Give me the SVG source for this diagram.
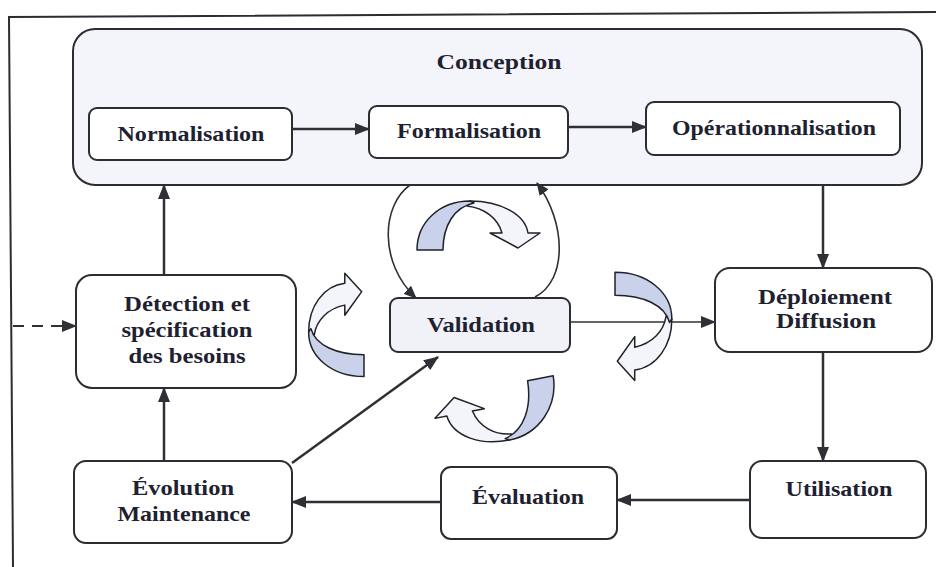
<svg xmlns="http://www.w3.org/2000/svg" xmlns:xlink="http://www.w3.org/1999/xlink" width="936" height="567" viewBox="0 0 936 567">
  <style>
    .box { fill: #ffffff; stroke: #2b2d33; stroke-width: 2; }
    .group { fill: #f3f5fa; stroke: #2b2d33; stroke-width: 2; }
    .soft { fill: #f0f2f8; stroke: #2b2d33; stroke-width: 2; }
    .lbl { font-family: "Liberation Serif", "DejaVu Serif", serif; font-weight: bold; font-size: 22px; fill: #1e2130; text-anchor: middle; }
    .link { fill: none; stroke: #2e3036; stroke-width: 2.5; }
    .thin { fill: none; stroke: #2e3036; stroke-width: 1.6; }
    .dash { fill: none; stroke: #2e3036; stroke-width: 2.2; stroke-dasharray: 11 8; }
    .shade { fill: #c9d2ea; stroke: #1f2229; stroke-width: 1.5; stroke-linejoin: round; }
    .light { fill: #f3f5fb; stroke: #1f2229; stroke-width: 1.5; stroke-linejoin: round; }
  </style>
  <defs>
    <marker id="head" markerUnits="userSpaceOnUse" markerWidth="15" markerHeight="12" refX="14" refY="6" orient="auto">
      <path d="M0,0 L15,6 L0,12 Z" fill="#2e3036"/>
    </marker>
    <marker id="headSm" markerUnits="userSpaceOnUse" markerWidth="13" markerHeight="11" refX="12" refY="5.5" orient="auto">
      <path d="M0,0 L13,5.5 L0,11 Z" fill="#2e3036"/>
    </marker>
    <!-- curved "turn" arrow: shaded back face + light front face ending in a head -->
    <g id="turn">
      <path class="light" vector-effect="non-scaling-stroke" d="M0,-49 C30,-49 55,-36 58,-17 L70,-17 L48,-2 L20,-17 L32,-17 C28,-32 14,-42 -3,-44 Z"/>
      <path class="shade" vector-effect="non-scaling-stroke" d="M-53,0 C-53,-28 -30,-49 0,-49 L4,-47 C-16,-43 -27,-24 -27,0 Z"/>
    </g>
  </defs>

  <rect width="936" height="567" fill="#ffffff"/>

  <!-- page frame -->
  <path d="M936,12 L9,17 L13,567" fill="none" stroke="#2b2d33" stroke-width="2"/>

  <!-- Conception group -->
  <g id="conception">
    <rect class="group" x="73" y="29" width="849" height="156" rx="22"/>
    <text class="lbl" x="499" y="69" textLength="125" lengthAdjust="spacingAndGlyphs">Conception</text>
  </g>

  <g id="normalisation">
    <rect class="box" x="89" y="108" width="203" height="52" rx="8"/>
    <text class="lbl" x="191" y="141" textLength="147" lengthAdjust="spacingAndGlyphs">Normalisation</text>
  </g>

  <g id="formalisation">
    <rect class="box" x="369" y="106" width="199" height="52" rx="8"/>
    <text class="lbl" x="469" y="138" textLength="144" lengthAdjust="spacingAndGlyphs">Formalisation</text>
  </g>

  <g id="operationnalisation">
    <rect class="box" x="646" y="102" width="254" height="53" rx="8"/>
    <text class="lbl" x="774" y="135" textLength="204" lengthAdjust="spacingAndGlyphs">Opérationnalisation</text>
  </g>

  <g id="detection">
    <rect class="box" x="76" y="275" width="220" height="113" rx="16"/>
    <text class="lbl" x="187" y="311" textLength="126" lengthAdjust="spacingAndGlyphs">Détection et</text>
    <text class="lbl" x="187" y="337" textLength="131" lengthAdjust="spacingAndGlyphs">spécification</text>
    <text class="lbl" x="187" y="363" textLength="117" lengthAdjust="spacingAndGlyphs">des besoins</text>
  </g>

  <g id="validation">
    <rect class="soft" x="390" y="298" width="180" height="54" rx="8"/>
    <text class="lbl" x="481" y="332" textLength="108" lengthAdjust="spacingAndGlyphs">Validation</text>
  </g>

  <g id="deploiement">
    <rect class="box" x="715" y="268" width="217" height="84" rx="15"/>
    <text class="lbl" x="825" y="304" textLength="134" lengthAdjust="spacingAndGlyphs">Déploiement</text>
    <text class="lbl" x="826" y="328" textLength="100" lengthAdjust="spacingAndGlyphs">Diffusion</text>
  </g>

  <g id="utilisation">
    <rect class="box" x="750" y="461" width="176" height="77" rx="12"/>
    <text class="lbl" x="839" y="496" textLength="107" lengthAdjust="spacingAndGlyphs">Utilisation</text>
  </g>

  <g id="evaluation">
    <rect class="box" x="441" y="467" width="176" height="72" rx="10"/>
    <text class="lbl" x="528" y="504" textLength="112" lengthAdjust="spacingAndGlyphs">Évaluation</text>
  </g>

  <g id="evolution">
    <rect class="box" x="74" y="461" width="218" height="82" rx="12"/>
    <text class="lbl" x="183" y="495" textLength="102" lengthAdjust="spacingAndGlyphs">Évolution</text>
    <text class="lbl" x="184" y="521" textLength="133" lengthAdjust="spacingAndGlyphs">Maintenance</text>
  </g>

  <!-- connectors -->
  <g id="connectors">
    <path class="link" d="M292,129 L369,129" marker-end="url(#head)"/>
    <path class="link" d="M568,127 L646,127" marker-end="url(#head)"/>
    <path class="link" d="M823,185 L823,268" marker-end="url(#head)"/>
    <path class="link" d="M823,352 L823,461" marker-end="url(#head)"/>
    <path class="link" d="M750,500 L617,500" marker-end="url(#head)"/>
    <path class="link" d="M441,502 L292,502" marker-end="url(#head)"/>
    <path class="link" d="M164,461 L164,388" marker-end="url(#head)"/>
    <path class="link" d="M164,275 L164,185" marker-end="url(#head)"/>
    <path class="dash" d="M13,326 L76,326" marker-end="url(#head)"/>
    <path class="thin" d="M570,322 L715,322" marker-end="url(#head)"/>
    <path class="link" d="M292,463 L438,357" marker-end="url(#head)"/>
    <path class="thin" d="M410,185 C382,205 378,262 416,298" marker-end="url(#headSm)"/>
    <path class="thin" d="M535,297 C568,280 566,222 537,183" marker-end="url(#headSm)"/>
  </g>

  <!-- turning arrows around Validation -->
  <g id="turns">
    <use xlink:href="#turn" href="#turn" transform="translate(470,250)"/>
    <use xlink:href="#turn" href="#turn" transform="translate(615,319) scale(1.16,0.88) rotate(90)"/>
    <use xlink:href="#turn" href="#turn" transform="translate(501,386) scale(1,1.12) rotate(170)"/>
    <use xlink:href="#turn" href="#turn" transform="translate(364,332) scale(1.13,0.84) rotate(-90)"/>
  </g>
</svg>
